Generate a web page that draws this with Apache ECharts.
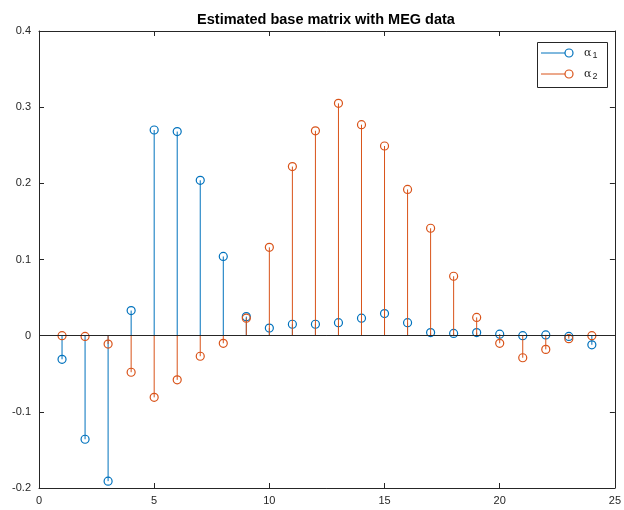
<!DOCTYPE html>
<html>
<head>
<meta charset="utf-8">
<script src="https://cdn.jsdelivr.net/npm/echarts@6/dist/echarts.min.js"></script>
<style>
  html, body { margin: 0; padding: 0; background: #fff; }
  #chart { width: 624px; height: 510px; }
</style>
</head>
<body>
<div id="chart"></div>
<script>
// Component index along the x axis
const index = [1, 2, 3, 4, 5, 6, 7, 8, 9, 10, 11, 12, 13, 14, 15, 16, 17, 18, 19, 20, 21, 22, 23, 24];
// Estimated base vectors
const alpha1 = [-0.031, -0.136, -0.191, 0.033, 0.270, 0.268, 0.204, 0.104, 0.025, 0.010, 0.015, 0.015,
                0.017, 0.023, 0.029, 0.017, 0.004, 0.003, 0.004, 0.002, 0.000, 0.001, -0.001, -0.012];
const alpha2 = [0.000, -0.001, -0.011, -0.048, -0.081, -0.058, -0.027, -0.010, 0.023, 0.116, 0.222, 0.269,
                0.305, 0.277, 0.249, 0.192, 0.141, 0.078, 0.024, -0.010, -0.029, -0.018, -0.004, 0.000];
const xTicks = [0, 5, 10, 15, 20, 25];
const yTicks = [-0.2, -0.1, 0, 0.1, 0.2, 0.3, 0.4];
const titleText = 'Estimated base matrix with MEG data';
const legendNames = ['1', '2'];

const BLUE = '#0072BD';
const ORANGE = '#D95319';
const AXIS = '#262626';

function stemRenderer(color) {
  return function (params, api) {
    const x = api.value(0);
    const y = api.value(1);
    const p0 = api.coord([x, 0]);
    const p1 = api.coord([x, y]);
    return {
      type: 'group',
      children: [
        { type: 'line', shape: { x1: p0[0], y1: p0[1], x2: p1[0], y2: p1[1] },
          style: { stroke: color, lineWidth: 1 } },
        { type: 'circle', shape: { cx: p1[0], cy: p1[1], r: 4 },
          style: { fill: 'none', stroke: color, lineWidth: 1.2 } }
      ]
    };
  };
}

const chart = echarts.init(document.getElementById('chart'), null, { renderer: 'canvas' });

const axisCommon = {
  type: 'value',
  axisLine: { show: true, onZero: false, lineStyle: { color: AXIS, width: 1 } },
  axisTick: { show: true, inside: true, length: 5, lineStyle: { color: AXIS } },
  splitLine: { show: false }
};

const legendY = [53, 74];
const legendGraphics = [
  { type: 'rect', shape: { x: 537.5, y: 42.5, width: 70, height: 45 },
    style: { fill: '#fff', stroke: AXIS, lineWidth: 1 }, z: 100 }
];
[BLUE, ORANGE].forEach((c, i) => {
  legendGraphics.push(
    { type: 'line', shape: { x1: 541, y1: legendY[i], x2: 569, y2: legendY[i] },
      style: { stroke: c, lineWidth: 1 }, z: 101 },
    { type: 'circle', shape: { cx: 569, cy: legendY[i], r: 4 },
      style: { fill: '#fff', stroke: c, lineWidth: 1.2 }, z: 102 },
    { type: 'text', x: 584, y: legendY[i], z: 101,
      style: { text: '{a|α}{s|' + legendNames[i] + '}', verticalAlign: 'middle',
        rich: {
          a: { fontFamily: 'DejaVu Serif', fontSize: 11, fill: AXIS, verticalAlign: 'middle' },
          s: { fontFamily: 'Liberation Sans', fontSize: 9, fill: AXIS, padding: [6, 0, 0, 1] }
        } } }
  );
});

chart.setOption({
  backgroundColor: '#fff',
  animation: false,
  title: {
    text: titleText,
    left: 321, top: 7, textAlign: 'center',
    textStyle: { fontFamily: 'Liberation Sans', fontSize: 14.5, fontWeight: 'bold', color: '#000' }
  },
  grid: { left: 39, right: 7, top: 31, bottom: 22 },
  xAxis: [
    Object.assign({}, axisCommon, {
      position: 'bottom', min: 0, max: 25, interval: 5,
      axisLabel: { color: AXIS, fontFamily: 'Liberation Sans', fontSize: 11, margin: 7,
        formatter: v => (xTicks.includes(v) ? String(v) : '') }
    }),
    Object.assign({}, axisCommon, {
      position: 'top', min: 0, max: 25, interval: 5, axisLabel: { show: false }
    })
  ],
  yAxis: [
    Object.assign({}, axisCommon, {
      position: 'left', min: -0.2, max: 0.4, interval: 0.1,
      axisLabel: { color: AXIS, fontFamily: 'Liberation Sans', fontSize: 11, margin: 8,
        formatter: v => {
          const r = Math.round(v * 10) / 10;
          return yTicks.includes(r) ? (r === 0 ? '0' : String(r)) : '';
        } }
    }),
    Object.assign({}, axisCommon, {
      position: 'right', min: -0.2, max: 0.4, interval: 0.1, axisLabel: { show: false }
    })
  ],
  series: [
    {
      name: 'alpha1', type: 'custom', xAxisIndex: 0, yAxisIndex: 0,
      data: index.map((x, i) => [x, alpha1[i]]),
      renderItem: stemRenderer(BLUE),
      markLine: {
        silent: true, symbol: 'none', label: { show: false },
        lineStyle: { color: AXIS, width: 1, type: 'solid' },
        data: [{ yAxis: 0 }]
      },
      z: 2
    },
    {
      name: 'alpha2', type: 'custom', xAxisIndex: 0, yAxisIndex: 0,
      data: index.map((x, i) => [x, alpha2[i]]),
      renderItem: stemRenderer(ORANGE),
      z: 3
    }
  ],
  graphic: legendGraphics
});
</script>
</body>
</html>
